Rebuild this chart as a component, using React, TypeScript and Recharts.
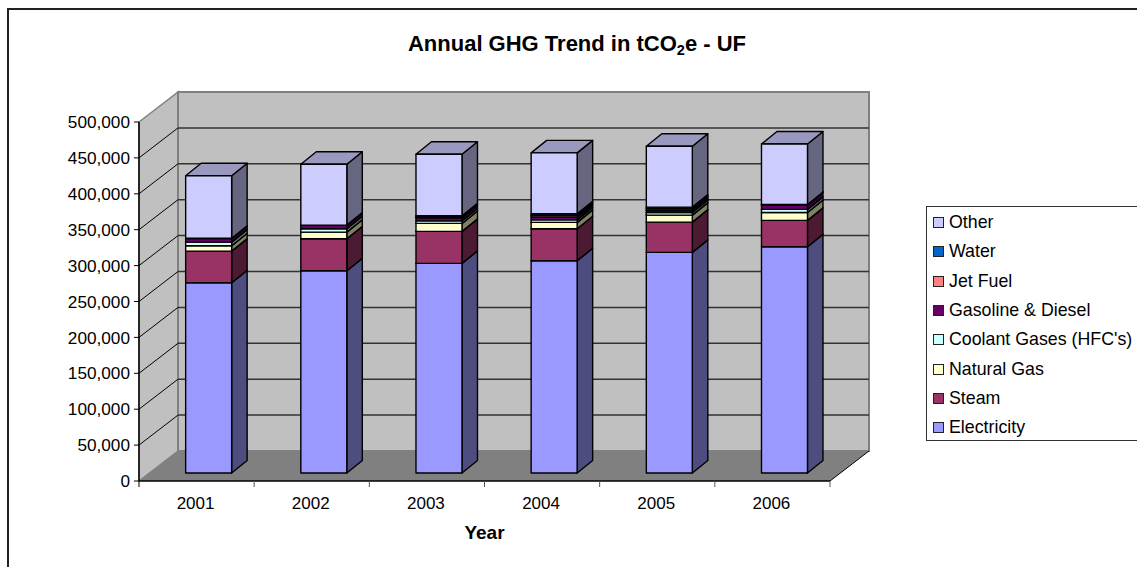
import * as React from 'react';
import { BarChart, Bar, XAxis, YAxis, CartesianGrid, Legend, ReferenceArea } from 'recharts';

const years = ['2001', '2002', '2003', '2004', '2005', '2006'];
const electricity = [265000, 281700, 292000, 295600, 307300, 315100];
const steam = [44000, 44500, 44500, 44500, 42100, 36700];
const naturalGas = [7500, 9300, 11100, 8900, 9700, 11100];
const coolant = [5000, 4600, 3600, 3600, 3800, 4200];
const gasoline = [5200, 4800, 4200, 3800, 2800, 6600];
const jetFuel = [200, 200, 1400, 2300, 2300, 200];
const water = [100, 100, 1400, 2300, 2300, 100];
const other = [87000, 84800, 85800, 84800, 84800, 84200];

const seriesNames = ['Electricity', 'Steam', 'Natural Gas', "Coolant Gases (HFC's)", 'Gasoline & Diesel', 'Jet Fuel', 'Water', 'Other'];
const seriesValues = [electricity, steam, naturalGas, coolant, gasoline, jetFuel, water, other];
const seriesColors = ['#9999FF', '#993366', '#FFFFCC', '#CCFFFF', '#660066', '#FF8080', '#0066CC', '#CCCCFF'];
const yTicks = [0, 50000, 100000, 150000, 200000, 250000, 300000, 350000, 400000, 450000, 500000];

const data = years.map((year, i) => {
	const row: any = { year };
	seriesNames.forEach((name, s) => {
		row[name] = seriesValues[s][i];
	});
	return row;
});

// 3D look: how far the walls sit behind the axes, and how the bars sit on the floor
const WALL_DX = 39;
const WALL_DY = -30;
const BAR_DX = 11.65;
const BAR_DY = -8;
const BAR_DEPTH_X = 15.5;
const BAR_DEPTH_Y = -12.5;
const FONT = '"Liberation Sans", Arial, sans-serif';

function shade(hex: string, f: number) {
	const n = parseInt(hex.slice(1), 16);
	const c = (v: number) => Math.round(v * f);
	return `rgb(${c((n >> 16) & 255)},${c((n >> 8) & 255)},${c(n & 255)})`;
}

function pts(list: number[][]) {
	return list.map((p) => p.join(',')).join(' ');
}

function Bar3D(props: any) {
	const { x, y, width, height, fill } = props;
	const l = x + BAR_DX;
	const r = l + width;
	const t = y + BAR_DY;
	const b = t + height;
	const dx = BAR_DEPTH_X;
	const dy = BAR_DEPTH_Y;
	const line = { stroke: '#000', strokeWidth: 1.4, strokeLinejoin: 'round' as const };
	return (
		<g>
			<polygon points={pts([[r, t], [r + dx, t + dy], [r + dx, b + dy], [r, b]])} fill={shade(fill, 0.5)} {...line} />
			<polygon points={pts([[l, t], [l + dx, t + dy], [r + dx, t + dy], [r, t]])} fill={shade(fill, 0.75)} {...line} />
			<rect x={l} y={t} width={width} height={height} fill={fill} {...line} />
		</g>
	);
}

function Walls(props: any) {
	const { x, y, width, height } = props;
	const bottom = y + height;
	const dx = WALL_DX;
	const dy = WALL_DY;
	return (
		<g>
			<polygon points={pts([[x, y], [x + dx, y + dy], [x + dx, bottom + dy], [x, bottom]])} fill="#C0C0C0" stroke="#808080" strokeWidth={1.5} />
			<rect x={x + dx} y={y + dy} width={width} height={height} fill="#C0C0C0" stroke="#808080" strokeWidth={2} />
			<polygon points={pts([[x, bottom], [x + dx, bottom + dy], [x + width + dx, bottom + dy], [x + width, bottom]])} fill="#808080" />
			<line x1={x + width} y1={bottom} x2={x + width + dx} y2={bottom + dy} stroke="#000" strokeWidth={1} />
		</g>
	);
}

function GridLine(props: any) {
	const { x1, x2, y1, index } = props;
	if (y1 >= 481 || y1 <= 122) {
		return <g key={index} />;
	}
	return (
		<g key={index}>
			<line x1={x1} y1={y1} x2={x1 + WALL_DX} y2={y1 + WALL_DY} stroke="#000" strokeWidth={1} />
			<line x1={x1 + WALL_DX} y1={y1 + WALL_DY} x2={x2 + WALL_DX} y2={y1 + WALL_DY} stroke="#333" strokeWidth={1.5} />
		</g>
	);
}

function YearTick(props: any) {
	const { x, y, payload, index, visibleTicksCount, width } = props;
	const step = width / visibleTicksCount;
	const last = index === visibleTicksCount - 1;
	return (
		<g>
			<line x1={x - step / 2} y1={y - 8} x2={x - step / 2} y2={y - 2} stroke={index === 0 ? '#000' : '#555'} strokeWidth={1} />
			{last && <line x1={x + step / 2} y1={y - 8} x2={x + step / 2} y2={y - 2} stroke="#555" strokeWidth={1} />}
			<text x={x - 1} y={y + 20} textAnchor="middle" fontSize={17} fontFamily={FONT} fill="#000">
				{payload.value}
			</text>
		</g>
	);
}

function LegendBox() {
	const rows = seriesNames.map((name, i) => ({ name, color: seriesColors[i] })).reverse();
	return (
		<div style={{ width: 211, height: 235, boxSizing: 'border-box', border: '1px solid #333', borderRight: 'none', background: '#fff', fontFamily: FONT, fontSize: 17.8, color: '#000', paddingTop: 1 }}>
			{rows.map((row) => (
				<div key={row.name} style={{ height: 29.3, display: 'flex', alignItems: 'center', whiteSpace: 'nowrap' }}>
					<span style={{ display: 'inline-block', width: 9, height: 9, marginLeft: 6, marginRight: 5, background: row.color, border: '1px solid #222' }} />
					{row.name}
				</div>
			))}
		</div>
	);
}

export default function App() {
	return (
		<div style={{ position: 'absolute', left: 0, top: 0, width: 1137, height: 567, background: '#fff', overflow: 'hidden' }}>
			<div style={{ position: 'absolute', left: 7, top: 8, width: 1130, height: 559, borderTop: '2px solid #222', borderLeft: '2px solid #222' }} />
			<BarChart width={1137} height={567} data={data} barSize={46} margin={{ top: 122, right: 307, bottom: 46, left: 79 }} style={{ position: 'absolute', left: 0, top: 0 }}>
				<text x={577} y={51} textAnchor="middle" fontSize={22} fontWeight="bold" fontFamily={FONT} fill="#000">
					Annual GHG Trend in tCO
					<tspan dy={4} fontSize={14.5}>2</tspan>
					<tspan dy={-4}>e - UF</tspan>
				</text>
				<ReferenceArea x1="2001" x2="2006" y1={0} y2={500000} shape={<Walls />} ifOverflow="visible" zIndex={-200} />
				<CartesianGrid vertical={false} horizontal={(p: any) => <GridLine {...p} />} />
				<XAxis dataKey="year" height={40} tickLine={false} axisLine={{ stroke: '#000', strokeWidth: 1.5 }} tick={<YearTick />} interval={0} label={{ value: 'Year', position: 'insideBottom', offset: -18, fontSize: 19, fontWeight: 'bold', fontFamily: FONT, fill: '#000' }} />
				<YAxis width={60} domain={[0, 500000]} ticks={yTicks} interval={0} tickSize={5} tickMargin={4} tickFormatter={(v: number) => v.toLocaleString('en-US')} tick={{ fontSize: 17.2, fontFamily: FONT, fill: '#000' }} tickLine={{ stroke: '#000' }} axisLine={{ stroke: '#000', strokeWidth: 1.5 }} />
				{seriesNames.map((name, i) => (
					<Bar key={name} dataKey={name} stackId="ghg" fill={seriesColors[i]} shape={<Bar3D />} isAnimationActive={false} />
				))}
				<Legend layout="vertical" align="center" verticalAlign="middle" content={<LegendBox />} wrapperStyle={{ left: 926, top: 206, width: 211, height: 235 }} />
			</BarChart>
		</div>
	);
}
